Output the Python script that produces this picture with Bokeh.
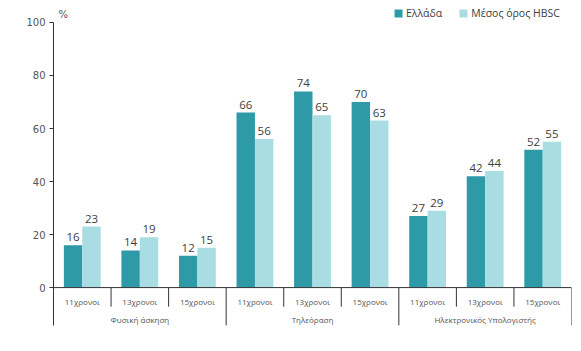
from bokeh.plotting import figure
from bokeh.models import (FactorRange, Range1d, ColumnDataSource, FixedTicker,
                          Legend, LegendItem, Label)
from bokeh.transform import dodge
from bokeh.core.properties import value
from bokeh.embed import file_html
from bokeh.resources import INLINE

groups = ["Φυσική άσκηση", "Τηλεόραση", "Ηλεκτρονικός Υπολογιστής"]
ages = ["11χρονοι", "13χρονοι", "15χρονοι"]
greece = [16, 14, 12, 66, 74, 70, 27, 42, 52]
hbsc = [23, 19, 15, 56, 65, 63, 29, 44, 55]
series_names = ["Ελλάδα", "Μέσος όρος HBSC"]
y_ticks = [0, 20, 40, 60, 80, 100]

DARK = "#2f9aa7"
LIGHT = "#aadde3"
LINE = "#333333"

factors = [(g, a) for g in groups for a in ages]
src = ColumnDataSource(dict(
    x=factors, greece=greece, hbsc=hbsc,
    gl=[str(v) for v in greece], hl=[str(v) for v in hbsc],
))

p = figure(width=581, height=351, output_backend="svg", toolbar_location=None,
           x_range=FactorRange(*factors, range_padding=0, group_padding=0,
                               factor_padding=0, subgroup_padding=0),
           y_range=Range1d(-14.3, 106.4),
           x_axis_location=None, min_border_left=53, min_border_right=10,
           min_border_top=5, min_border_bottom=26)
p.outline_line_color = None
p.xgrid.visible = False
p.ygrid.visible = False
p.background_fill_color = "white"

yax = p.yaxis[0]
yax.ticker = FixedTicker(ticks=y_ticks)
yax.bounds = (-14.3, 100)
yax.axis_line_color = LINE
yax.major_tick_line_color = LINE
yax.major_tick_out = 4
yax.major_tick_in = 0
yax.minor_tick_line_color = None
yax.major_label_text_font = "DejaVu Sans"
yax.major_label_text_font_size = "10px"
yax.major_label_text_color = "#555555"
yax.major_label_standoff = 4

r1 = p.vbar(x=dodge("x", -0.16, range=p.x_range), top="greece", width=0.32,
            source=src, fill_color=DARK, line_color=None)
r2 = p.vbar(x=dodge("x", 0.16, range=p.x_range), top="hbsc", width=0.32,
            source=src, fill_color=LIGHT, line_color=None)

lbl_kw = dict(text_font=value("Open Sans"), text_font_size="11.5px",
              text_color="#404040", text_align="center", text_baseline="bottom",
              y_offset=-4, source=src)
p.text(x=dodge("x", -0.16, range=p.x_range), y="greece", text="gl", **lbl_kw)
p.text(x=dodge("x", 0.16, range=p.x_range), y="hbsc", text="hl", **lbl_kw)

# baseline and separators (synthetic coordinates of the factor range)
n = len(factors)
p.segment(x0=[0], y0=[0], x1=[n], y1=[0], line_color=LINE, line_width=1)
sub_b = [i for i in range(1, n) if i % len(ages) != 0]
p.segment(x0=sub_b, y0=[0] * len(sub_b), x1=sub_b, y1=[-7.2] * len(sub_b),
          line_color=LINE, line_width=1)
grp_b = [i * len(ages) for i in range(1, len(groups) + 1)]
p.segment(x0=grp_b, y0=[0] * len(grp_b), x1=grp_b, y1=[-14.3] * len(grp_b),
          line_color=LINE, line_width=1)

# category labels
sub_src = ColumnDataSource(dict(x=factors, t=[f[1] for f in factors]))
p.text(x="x", y=-5.2, text="t", source=sub_src, text_font=value("Open Sans"),
       text_font_size="8px", text_color="#555555", text_align="center",
       text_baseline="middle")
grp_src = ColumnDataSource(dict(x=[(g, ages[1]) for g in groups], t=groups))
p.text(x="x", y=-12.0, text="t", source=grp_src, text_font=value("Open Sans"),
       text_font_size="8px", text_color="#555555", text_align="center",
       text_baseline="middle")

p.add_layout(Label(x=0, y=100, text="%", x_offset=5, y_offset=2,
                   text_font="DejaVu Sans", text_font_size="10px",
                   text_color="#555555", text_baseline="bottom"))

legend = Legend(items=[LegendItem(label=series_names[0], renderers=[r1]),
                       LegendItem(label=series_names[1], renderers=[r2])],
                orientation="horizontal", location=(340, 305),
                glyph_width=10, glyph_height=10, label_height=10,
                label_standoff=3, spacing=16, padding=0, margin=0,
                border_line_color=None, background_fill_alpha=0,
                label_text_font="Open Sans", label_text_font_size="10.5px",
                label_text_color="#404040")
p.add_layout(legend)

open("out.html", "w").write(file_html(p, INLINE))
